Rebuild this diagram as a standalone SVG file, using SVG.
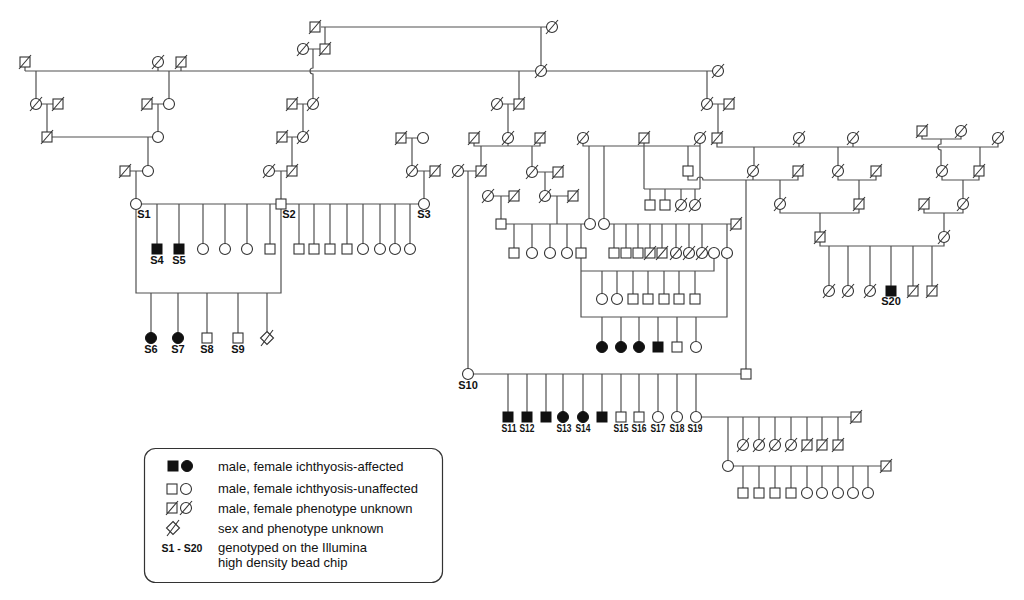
<svg xmlns="http://www.w3.org/2000/svg" xmlns:xlink="http://www.w3.org/1999/xlink" width="1024" height="600" viewBox="0 0 1024 600">
<style>
.ln{fill:none;stroke:#505050;stroke-width:1.2}
.s{fill:#fff;stroke:#333;stroke-width:1.1}
.k{fill:#111;stroke:#111;stroke-width:1}
.sl{stroke:#333;stroke-width:1.1}
.lb{font-family:"Liberation Sans",Arial,sans-serif;font-weight:bold;font-size:11px;fill:#111;text-anchor:middle}
.lt{font-family:"Liberation Sans",Arial,sans-serif;font-size:13px;fill:#111}
</style>
<defs>
<g id="m"><rect class="s" x="-5" y="-5" width="10" height="10"/></g>
<g id="f"><circle class="s" r="5.5"/></g>
<g id="mf"><rect class="k" x="-5" y="-5" width="10" height="10"/></g>
<g id="ff"><circle class="k" r="5.5"/></g>
<g id="mu"><rect class="s" x="-5" y="-5" width="10" height="10"/><line class="sl" x1="-6" y1="7" x2="6" y2="-7"/></g>
<g id="fu"><circle class="s" r="5.5"/><line class="sl" x1="-6" y1="7" x2="6" y2="-7"/></g>
<g id="u"><polygon class="s" points="0,-6.5 6.5,0 0,6.5 -6.5,0"/><line class="sl" x1="-6" y1="8" x2="6" y2="-8"/></g>
</defs>
<rect width="1024" height="600" fill="#fff"/>
<g id="connectors">
<path class="ln" d="M321,27H546M541,27V65.5M325,27V44M308.5,49H320M313,49V68A3,3 0 0 0 313,74V98.5
M25,71H712.5M25,67V71M158,67.5V71M181,67V71M36,71V98.5M169,71V98.5M519,71V99M707,71V98.5
M41.5,104H53M47,104V132M152,104H163.5M158,104V131.5M297,104H307.5M303,104V131.5M502.5,104H514M508,104V132.5M712.5,104H724M718,104V133
M52,137H152.5M148,137V165.5M287,137H297.5M292,137V166M406,138H417.5M412,138V165.5
M474,143V146H540V143M508,143.5V146M481,146V166M532,146V166.5
M583,143.5V146H700M644,143V189M700,143.5V189M589,146V218.5M604,146V218.5M688,146V166
M717,143V147H998V143.5M799,143.5V147M853,143.5V147M754,147V165.5M838,147V165.5M980,147V166
M922,136V139H961V136.5M941,139V144A3,3 0 0 0 941,150V165.5
M130,171H142.5M136,171V198.5M274.5,171H287M281,171V199M417.5,171H430M424,171V198.5M463.5,171H476M468,171V368.5M537.5,172H553M545,172V190.5
M688,176V180H697A3,3 0 0 1 703,180H798V176M753,176.5V180M746,180V369M780,180V198.5
M838,176.5V180H876V176M859,180V199M942,176.5V180H979V176M963,180V198.5
M644,189H700M650,189V200M665,189V200M681,189V199.5M695,189V199.5
M493.5,196H509M501,196V219M550.5,196H568M557,196V224
M780,209.5V213H859V209M820,213V232M924,209V213H963V209.5M944,213V231.5
M506,224H584.5M514,224V248M532,224V247.5M550,224V247.5M567,224V247.5M581,224V248
M609.5,224H731M614,224V248M626,224V248M638,224V248M650,224V248M662,224V248M676,224V247.5M689,224V247.5M702,224V247.5M727,224V247.5
M820,242V246H944V242.5M829,246V285.5M848,246V285.5M870,246V285.5M891,246V286M913,246V286M932,246V286
M581,258V317H727V258.5M581,271H714V258.5M602,271V293.5M617,271V293.5M633,271V294M648,271V294M664,271V294M679,271V294M695,271V294
M602,317V341.5M621,317V341.5M639,317V341.5M658,317V342M677,317V342M696,317V341.5
M141.5,204H418.5M157,204V244M179,204V244M203,204V243.5M225,204V243.5M247,204V243.5M270,204V244M299,204V244M314,204V244M330,204V244M347,204V244M363,204V243.5M380,204V243.5M395,204V243.5M410,204V243.5
M136,209.5V293H281V209M151,293V332.5M178,293V332.5M207,293V333M238,293V333M267,293V331.5
M473.5,374H741M508,374V412M527,374V412M546,374V412M563,374V411.5M583,374V411.5M602,374V412M621,374V412M639,374V412M658,374V411.5M677,374V411.5M696,374V411.5
M701.5,417H851M728,417V460.5M743,417V439.5M759,417V439.5M775,417V439.5M791,417V439.5M807,417V440M822,417V440M838,417V440
M733.5,466H881M743,466V488M759,466V488M775,466V488M791,466V488M807,466V487.5M822,466V487.5M838,466V487.5M853,466V487.5M868,466V487.5"/>
</g>
<g id="nodes">
<g id="p1"><use href="#mu" x="315" y="27"/></g>
<g id="p2"><use href="#fu" x="552" y="27"/></g>
<g id="p3"><use href="#fu" x="303" y="49"/></g>
<g id="p4"><use href="#mu" x="325" y="49"/></g>
<g id="p5"><use href="#mu" x="25" y="62"/></g>
<g id="p6"><use href="#fu" x="158" y="62"/></g>
<g id="p7"><use href="#mu" x="181" y="62"/></g>
<g id="p8"><use href="#fu" x="541" y="71"/></g>
<g id="p9"><use href="#fu" x="718" y="71"/></g>
<g id="p10"><use href="#fu" x="36" y="104"/></g>
<g id="p11"><use href="#mu" x="58" y="104"/></g>
<g id="p12"><use href="#mu" x="147" y="104"/></g>
<g id="p13"><use href="#f" x="169" y="104"/></g>
<g id="p14"><use href="#mu" x="292" y="104"/></g>
<g id="p15"><use href="#fu" x="313" y="104"/></g>
<g id="p16"><use href="#fu" x="497" y="104"/></g>
<g id="p17"><use href="#mu" x="519" y="104"/></g>
<g id="p18"><use href="#fu" x="707" y="104"/></g>
<g id="p19"><use href="#mu" x="729" y="104"/></g>
<g id="p20"><use href="#mu" x="47" y="137"/></g>
<g id="p21"><use href="#f" x="158" y="137"/></g>
<g id="p22"><use href="#mu" x="282" y="137"/></g>
<g id="p23"><use href="#fu" x="303" y="137"/></g>
<g id="p24"><use href="#mu" x="401" y="138"/></g>
<g id="p25"><use href="#f" x="423" y="138"/></g>
<g id="p26"><use href="#mu" x="474" y="138"/></g>
<g id="p27"><use href="#fu" x="508" y="138"/></g>
<g id="p28"><use href="#mu" x="540" y="138"/></g>
<g id="p29"><use href="#fu" x="583" y="138"/></g>
<g id="p30"><use href="#mu" x="644" y="138"/></g>
<g id="p31"><use href="#fu" x="700" y="138"/></g>
<g id="p32"><use href="#mu" x="717" y="138"/></g>
<g id="p33"><use href="#fu" x="799" y="138"/></g>
<g id="p34"><use href="#fu" x="853" y="138"/></g>
<g id="p35"><use href="#fu" x="998" y="138"/></g>
<g id="p36"><use href="#mu" x="922" y="131"/></g>
<g id="p37"><use href="#fu" x="961" y="131"/></g>
<g id="p38"><use href="#mu" x="125" y="171"/></g>
<g id="p39"><use href="#f" x="148" y="171"/></g>
<g id="p40"><use href="#fu" x="269" y="171"/></g>
<g id="p41"><use href="#mu" x="292" y="171"/></g>
<g id="p42"><use href="#fu" x="412" y="171"/></g>
<g id="p43"><use href="#mu" x="435" y="171"/></g>
<g id="p44"><use href="#fu" x="458" y="171"/></g>
<g id="p45"><use href="#mu" x="481" y="171"/></g>
<g id="p46"><use href="#fu" x="532" y="172"/></g>
<g id="p47"><use href="#mu" x="558" y="172"/></g>
<g id="p48"><use href="#m" x="688" y="171"/></g>
<g id="p49"><use href="#fu" x="753" y="171"/></g>
<g id="p50"><use href="#mu" x="798" y="171"/></g>
<g id="p51"><use href="#fu" x="838" y="171"/></g>
<g id="p52"><use href="#mu" x="876" y="171"/></g>
<g id="p53"><use href="#fu" x="942" y="171"/></g>
<g id="p54"><use href="#mu" x="979" y="171"/></g>
<g id="p55"><use href="#fu" x="488" y="196"/></g>
<g id="p56"><use href="#mu" x="514" y="196"/></g>
<g id="p57"><use href="#fu" x="545" y="196"/></g>
<g id="p58"><use href="#mu" x="573" y="196"/></g>
<g id="S1"><use href="#f" x="136" y="204"/><text class="lb" x="144" y="218">S1</text></g>
<g id="S2"><use href="#m" x="281" y="204"/><text class="lb" x="289" y="218">S2</text></g>
<g id="S3"><use href="#f" x="424" y="204"/><text class="lb" x="424" y="218">S3</text></g>
<g id="p59"><use href="#fu" x="780" y="204"/></g>
<g id="p60"><use href="#mu" x="859" y="204"/></g>
<g id="p61"><use href="#mu" x="924" y="204"/></g>
<g id="p62"><use href="#fu" x="963" y="204"/></g>
<g id="p63"><use href="#m" x="650" y="205"/></g>
<g id="p64"><use href="#m" x="665" y="205"/></g>
<g id="p65"><use href="#fu" x="681" y="205"/></g>
<g id="p66"><use href="#fu" x="695" y="205"/></g>
<g id="p67"><use href="#m" x="501" y="224"/></g>
<g id="p68"><use href="#f" x="590" y="224"/></g>
<g id="p69"><use href="#f" x="604" y="224"/></g>
<g id="p70"><use href="#mu" x="736" y="224"/></g>
<g id="p71"><use href="#mu" x="820" y="237"/></g>
<g id="p72"><use href="#fu" x="944" y="237"/></g>
<g id="S4"><use href="#mf" x="157" y="249"/><text class="lb" x="157" y="264">S4</text></g>
<g id="S5"><use href="#mf" x="179" y="249"/><text class="lb" x="179" y="264">S5</text></g>
<g id="p73"><use href="#f" x="203" y="249"/></g>
<g id="p74"><use href="#f" x="225" y="249"/></g>
<g id="p75"><use href="#f" x="247" y="249"/></g>
<g id="p76"><use href="#m" x="270" y="249"/></g>
<g id="p77"><use href="#m" x="299" y="249"/></g>
<g id="p78"><use href="#m" x="314" y="249"/></g>
<g id="p79"><use href="#m" x="330" y="249"/></g>
<g id="p80"><use href="#m" x="347" y="249"/></g>
<g id="p81"><use href="#f" x="363" y="249"/></g>
<g id="p82"><use href="#f" x="380" y="249"/></g>
<g id="p83"><use href="#f" x="395" y="249"/></g>
<g id="p84"><use href="#f" x="410" y="249"/></g>
<g id="p85"><use href="#m" x="514" y="253"/></g>
<g id="p86"><use href="#f" x="532" y="253"/></g>
<g id="p87"><use href="#f" x="550" y="253"/></g>
<g id="p88"><use href="#f" x="567" y="253"/></g>
<g id="p89"><use href="#m" x="581" y="253"/></g>
<g id="p90"><use href="#m" x="614" y="253"/></g>
<g id="p91"><use href="#m" x="626" y="253"/></g>
<g id="p92"><use href="#m" x="638" y="253"/></g>
<g id="p93"><use href="#mu" x="650" y="253"/></g>
<g id="p94"><use href="#mu" x="662" y="253"/></g>
<g id="p95"><use href="#fu" x="676" y="253"/></g>
<g id="p96"><use href="#fu" x="689" y="253"/></g>
<g id="p97"><use href="#fu" x="702" y="253"/></g>
<g id="p98"><use href="#f" x="714" y="253"/></g>
<g id="p99"><use href="#f" x="727" y="253"/></g>
<g id="p100"><use href="#fu" x="829" y="291"/></g>
<g id="p101"><use href="#fu" x="848" y="291"/></g>
<g id="p102"><use href="#fu" x="870" y="291"/></g>
<g id="S20"><use href="#mf" x="891" y="291"/><text class="lb" x="891" y="305">S20</text></g>
<g id="p103"><use href="#mu" x="913" y="291"/></g>
<g id="p104"><use href="#mu" x="932" y="291"/></g>
<g id="p105"><use href="#f" x="602" y="299"/></g>
<g id="p106"><use href="#f" x="617" y="299"/></g>
<g id="p107"><use href="#m" x="633" y="299"/></g>
<g id="p108"><use href="#m" x="648" y="299"/></g>
<g id="p109"><use href="#m" x="664" y="299"/></g>
<g id="p110"><use href="#m" x="679" y="299"/></g>
<g id="p111"><use href="#m" x="695" y="299"/></g>
<g id="S6"><use href="#ff" x="151" y="338"/><text class="lb" x="151" y="353">S6</text></g>
<g id="S7"><use href="#ff" x="178" y="338"/><text class="lb" x="178" y="353">S7</text></g>
<g id="S8"><use href="#m" x="207" y="338"/><text class="lb" x="207" y="353">S8</text></g>
<g id="S9"><use href="#m" x="238" y="338"/><text class="lb" x="238" y="353">S9</text></g>
<g id="p112"><use href="#u" x="267" y="338"/></g>
<g id="p113"><use href="#ff" x="602" y="347"/></g>
<g id="p114"><use href="#ff" x="621" y="347"/></g>
<g id="p115"><use href="#ff" x="639" y="347"/></g>
<g id="p116"><use href="#mf" x="658" y="347"/></g>
<g id="p117"><use href="#m" x="677" y="347"/></g>
<g id="p118"><use href="#f" x="696" y="347"/></g>
<g id="S10"><use href="#f" x="468" y="374"/><text class="lb" x="468" y="389">S10</text></g>
<g id="p119"><use href="#m" x="746" y="374"/></g>
<g id="S11"><use href="#mf" x="508" y="417"/><text class="lb" x="509" y="432" textLength="15" lengthAdjust="spacingAndGlyphs">S11</text></g>
<g id="S12"><use href="#mf" x="527" y="417"/><text class="lb" x="527" y="432" textLength="15" lengthAdjust="spacingAndGlyphs">S12</text></g>
<g id="p120"><use href="#mf" x="546" y="417"/></g>
<g id="S13"><use href="#ff" x="563" y="417"/><text class="lb" x="564" y="432" textLength="15" lengthAdjust="spacingAndGlyphs">S13</text></g>
<g id="S14"><use href="#ff" x="583" y="417"/><text class="lb" x="583" y="432" textLength="15" lengthAdjust="spacingAndGlyphs">S14</text></g>
<g id="p121"><use href="#mf" x="602" y="417"/></g>
<g id="S15"><use href="#m" x="621" y="417"/><text class="lb" x="621" y="432" textLength="15" lengthAdjust="spacingAndGlyphs">S15</text></g>
<g id="S16"><use href="#m" x="639" y="417"/><text class="lb" x="639" y="432" textLength="15" lengthAdjust="spacingAndGlyphs">S16</text></g>
<g id="S17"><use href="#f" x="658" y="417"/><text class="lb" x="658" y="432" textLength="15" lengthAdjust="spacingAndGlyphs">S17</text></g>
<g id="S18"><use href="#f" x="677" y="417"/><text class="lb" x="677" y="432" textLength="15" lengthAdjust="spacingAndGlyphs">S18</text></g>
<g id="S19"><use href="#f" x="696" y="417"/><text class="lb" x="695" y="432" textLength="15" lengthAdjust="spacingAndGlyphs">S19</text></g>
<g id="p122"><use href="#mu" x="856" y="417"/></g>
<g id="p123"><use href="#fu" x="743" y="445"/></g>
<g id="p124"><use href="#fu" x="759" y="445"/></g>
<g id="p125"><use href="#fu" x="775" y="445"/></g>
<g id="p126"><use href="#fu" x="791" y="445"/></g>
<g id="p127"><use href="#mu" x="807" y="445"/></g>
<g id="p128"><use href="#mu" x="822" y="445"/></g>
<g id="p129"><use href="#mu" x="838" y="445"/></g>
<g id="p130"><use href="#f" x="728" y="466"/></g>
<g id="p131"><use href="#mu" x="886" y="466"/></g>
<g id="p132"><use href="#m" x="743" y="493"/></g>
<g id="p133"><use href="#m" x="759" y="493"/></g>
<g id="p134"><use href="#m" x="775" y="493"/></g>
<g id="p135"><use href="#m" x="791" y="493"/></g>
<g id="p136"><use href="#f" x="807" y="493"/></g>
<g id="p137"><use href="#f" x="822" y="493"/></g>
<g id="p138"><use href="#f" x="838" y="493"/></g>
<g id="p139"><use href="#f" x="853" y="493"/></g>
<g id="p140"><use href="#f" x="868" y="493"/></g>
</g>
<g id="legend">
<rect x="144.5" y="448.5" width="298" height="134" rx="11" fill="#fff" stroke="#333" stroke-width="1.2"/>
<use href="#mf" x="173" y="466"/><use href="#ff" x="187" y="466"/>
<text class="lt" x="218" y="470.5">male, female ichthyosis-affected</text>
<use href="#m" x="172" y="489"/><use href="#f" x="186" y="489"/>
<text class="lt" x="218" y="493">male, female ichthyosis-unaffected</text>
<use href="#mu" x="172" y="508"/><use href="#fu" x="186" y="508"/>
<text class="lt" x="218" y="512.5">male, female phenotype unknown</text>
<use href="#u" x="173" y="528"/>
<text class="lt" x="218" y="532.5">sex and phenotype unknown</text>
<text class="lb" x="182" y="552" style="font-size:10.5px">S1 - S20</text>
<text class="lt" x="218" y="552">genotyped on the Illumina</text>
<text class="lt" x="218" y="567">high density bead chip</text>
</g>
</svg>
